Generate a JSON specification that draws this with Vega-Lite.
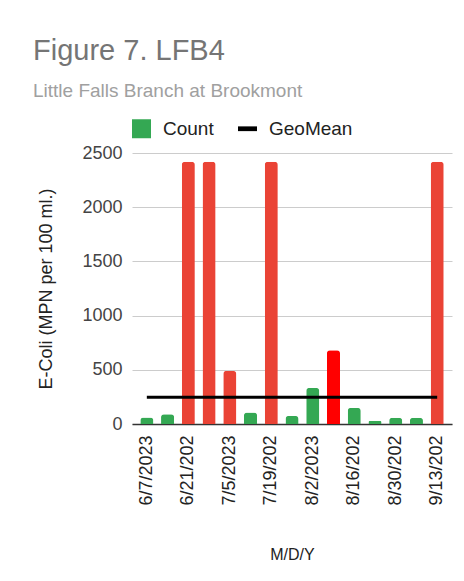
{
  "$schema": "https://vega.github.io/schema/vega-lite/v6.json",
  "autosize": {"type": "none"},
  "width": 320,
  "height": 271,
  "padding": {"left": 132, "top": 153, "right": 12, "bottom": 157},
  "background": "white",
  "title": {
    "text": "Figure 7. LFB4",
    "subtitle": "Little Falls Branch at Brookmont",
    "anchor": "start",
    "frame": "group",
    "dx": -99,
    "offset": 18,
    "font": "Liberation Sans",
    "fontSize": 29,
    "fontWeight": "normal",
    "color": "#757575",
    "subtitleFont": "Liberation Sans",
    "subtitleFontSize": 19,
    "subtitleColor": "#a0a0a0",
    "subtitlePadding": 16
  },
  "data": {
    "values": [
      {"date": "6/7/2023", "ecoli": 60, "series": "Count", "geomean": 247},
      {"date": "6/14/2023", "ecoli": 90, "series": "Count", "geomean": 247},
      {"date": "6/21/2023", "ecoli": 2420, "series": "High", "geomean": 247},
      {"date": "6/28/2023", "ecoli": 2420, "series": "High", "geomean": 247},
      {"date": "7/5/2023", "ecoli": 490, "series": "High", "geomean": 247},
      {"date": "7/12/2023", "ecoli": 105, "series": "Count", "geomean": 247},
      {"date": "7/19/2023", "ecoli": 2420, "series": "High", "geomean": 247},
      {"date": "7/26/2023", "ecoli": 74, "series": "Count", "geomean": 247},
      {"date": "8/2/2023", "ecoli": 333, "series": "Count", "geomean": 247},
      {"date": "8/9/2023", "ecoli": 680, "series": "Peak", "geomean": 247},
      {"date": "8/16/2023", "ecoli": 148, "series": "Count", "geomean": 247},
      {"date": "8/23/2023", "ecoli": 31, "series": "Count", "geomean": 247},
      {"date": "8/30/2023", "ecoli": 58, "series": "Count", "geomean": 247},
      {"date": "9/6/2023", "ecoli": 58, "series": "Count", "geomean": 247},
      {"date": "9/13/2023", "ecoli": 2420, "series": "High", "geomean": 247}
    ]
  },
  "encoding": {
    "x": {
      "field": "date",
      "type": "ordinal",
      "sort": null,
      "scale": {"paddingInner": 0.37, "paddingOuter": 0.4},
      "axis": {
        "title": "M/D/Y",
        "titleFont": "Liberation Sans",
        "titleFontSize": 16,
        "titleFontWeight": "normal",
        "titleColor": "#222222",
        "titlePadding": 41,
        "values": ["6/7/2023", "6/21/2023", "7/5/2023", "7/19/2023", "8/2/2023", "8/16/2023", "8/30/2023", "9/13/2023"],
        "labelExpr": "substring(datum.label, 0, 8)",
        "labelAngle": -90,
        "labelFont": "Liberation Sans",
        "labelFontSize": 18,
        "labelColor": "#222222",
        "labelPadding": 11,
        "ticks": false,
        "domainColor": "#333333",
        "domainWidth": 1.5,
        "grid": false
      }
    }
  },
  "layer": [
    {
      "mark": {"type": "bar", "cornerRadiusTopLeft": 3, "cornerRadiusTopRight": 3},
      "encoding": {
        "y": {
          "field": "ecoli",
          "type": "quantitative",
          "scale": {"domain": [0, 2500], "nice": false},
          "axis": {
            "title": "E-Coli (MPN per 100 ml.)",
            "titleFont": "Liberation Sans",
            "titleFontSize": 18,
            "titleFontWeight": "normal",
            "titleColor": "#222222",
            "titlePadding": 26,
            "values": [0, 500, 1000, 1500, 2000, 2500],
            "format": "d",
            "labelFont": "Liberation Sans",
            "labelFontSize": 18,
            "labelColor": "#444444",
            "labelPadding": 10,
            "ticks": false,
            "domain": false,
            "gridColor": "#cccccc",
            "gridWidth": 1
          }
        },
        "color": {
          "field": "series",
          "type": "nominal",
          "scale": {
            "domain": ["Count", "GeoMean", "High", "Peak"],
            "range": ["#34a853", "#000000", "#ea4335", "#ff0000"]
          },
          "legend": {
            "values": ["Count", "GeoMean"],
            "title": null,
            "orient": "top",
            "direction": "horizontal",
            "offset": 14,
            "labelFont": "Liberation Sans",
            "labelFontSize": 19,
            "labelColor": "#222222",
            "labelOffset": 12,
            "symbolSize": 361,
            "symbolType": "square",
            "symbolStrokeWidth": 0,
            "symbolOpacity": 1,
            "columnPadding": 24,
            "encode": {
              "symbols": {
                "update": {
                  "shape": {"signal": "datum.value === 'GeoMean' ? 'M-1,-0.25H1V0.25H-1Z' : 'square'"},
                  "fill": {"signal": "datum.value === 'GeoMean' ? '#1f2328' : '#34a853'"},
                  "strokeWidth": {"value": 0}
                }
              }
            }
          }
        }
      }
    },
    {
      "mark": {"type": "line", "strokeWidth": 3},
      "encoding": {
        "y": {"field": "geomean", "type": "quantitative"},
        "color": {"datum": "GeoMean"}
      }
    }
  ],
  "config": {
    "view": {"stroke": null}
  }
}
